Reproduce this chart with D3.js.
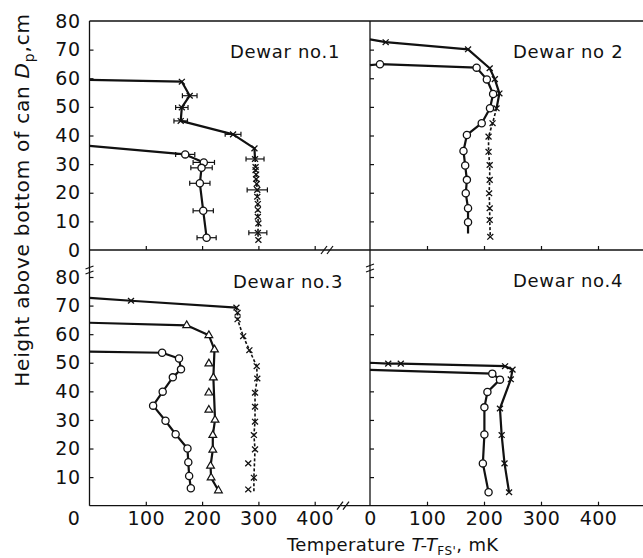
<!DOCTYPE html>
<html>
<head>
<meta charset="utf-8">
<script src="https://cdn.jsdelivr.net/npm/d3@7"></script>
<style>
  body { margin: 0; background: #fff; }
  svg text { font-family: "DejaVu Sans", sans-serif; fill: #111; }
</style>
</head>
<body>
<div id="chart"></div>
<script>
// Tick values
var xTicks = [0, 100, 200, 300, 400];
var yTicksTop = [0, 10, 20, 30, 40, 50, 60, 70, 80];
var yTicksBot = [10, 20, 30, 40, 50, 60, 70, 80];

// Dewar no.1 - crosses (with error bars) and circles (with error bars)
var dw1CrossWall = 59.4;
var dw1CrossT = [164, 178, 164, 162, 255, 293, 294, 295, 295, 296, 296, 297, 298, 298, 299, 299, 299, 300, 299, 300];
var dw1CrossH = [58.8, 53.9, 49.8, 45.1, 40.4, 35.5, 31.8, 29.0, 27.9, 26.4, 24.8, 23.1, 21.0, 18.6, 16.1, 14.0, 11.6, 9.3, 6.0, 3.5];
var dw1CrossE = [0, 13, 11, 12, 14, 0, 16, 0, 0, 0, 0, 0, 18, 0, 0, 0, 0, 0, 16, 0];
var dw1CircWall = 36.4;
var dw1CircT = [170, 203, 199, 196, 202, 208];
var dw1CircH = [33.4, 30.6, 28.7, 23.3, 13.7, 4.3];
var dw1CircE = [17, 19, 19, 18, 18, 17];

// Dewar no 2
var dw2CrossWall = 73.6;
var dw2CrossT = [27.5, 172, 210, 219, 227, 222, 215, 208, 208, 210, 210, 209, 210, 210, 211];
var dw2CrossH = [72.6, 70.1, 63.5, 59.7, 54.7, 49.5, 44.3, 39.6, 34.3, 29.7, 24.5, 19.8, 14.6, 10.5, 4.6];
var dw2CircWall = 64.6;
var dw2CircT = [17.5, 187, 205, 216, 210.5, 196, 170, 164, 167, 170, 168, 172, 172];
var dw2CircH = [64.9, 63.7, 59.6, 54.5, 49.5, 44.3, 40.2, 34.6, 29.5, 24.5, 19.8, 14.6, 9.7];
var dw2CircTail = [172, 5.8];

// Dewar no.3
var dw3CrossWall = 72.7;
var dw3CrossT = [73.7, 261, 263, 263, 273, 284, 297, 298, 294, 294, 294, 292, 294, 282, 292, 282];
var dw3CrossH = [71.7, 69.3, 67.5, 65.2, 59.3, 54.4, 48.8, 44.5, 39.5, 34.6, 29.4, 24.7, 19.7, 14.8, 9.8, 5.7];
var dw3CrossOff = [0, 0, 0, 0, 0, 0, 0, 0, 0, 0, 0, 0, 0, 1, 0, 1];
var dw3CrossTail = [292, 5.0];
var dw3TriWall = 64.0;
var dw3TriT = [172.6, 212, 222, 212, 220, 212, 212, 223, 219, 219, 215, 216, 229];
var dw3TriH = [63.1, 59.6, 54.6, 49.7, 44.8, 39.5, 33.5, 30.0, 24.7, 19.5, 13.9, 9.8, 5.3];
var dw3TriOff = [0, 0, 0, 1, 0, 1, 1, 0, 0, 0, 0, 0, 0];
var dw3CircWall = 53.9;
var dw3CircT = [129, 159, 162.5, 148, 130, 113, 135, 153, 174, 175.5, 177, 180];
var dw3CircH = [53.5, 51.5, 47.7, 44.9, 39.9, 35.0, 29.7, 25.0, 20.0, 15.2, 10.4, 6.1];

// Dewar no.4
var dw4CrossWall = 50.0;
var dw4CrossT = [32, 54, 237, 250, 247, 228, 231, 236, 244];
var dw4CrossH = [49.7, 49.7, 48.8, 47.6, 44.2, 34.0, 24.7, 14.8, 4.7];
var dw4CircWall = 47.5;
var dw4CircT = [214.6, 228, 206, 200.7, 200.7, 198, 208];
var dw4CircH = [46.2, 44.1, 39.8, 34.4, 24.9, 14.8, 4.7];

var svgWidth = 643, svgHeight = 558;

var svg = d3.select("#chart").append("svg")
  .attr("width", svgWidth)
  .attr("height", svgHeight);

// scales: left/right panels and top/bottom rows
var xL = d3.scaleLinear().domain([0, 400]).range([89.5, 314.7]);
var xR = d3.scaleLinear().domain([0, 400]).range([370, 598]);
var yT = d3.scaleLinear().domain([0, 80]).range([250, 21]);
var yB = d3.scaleLinear().domain([0, 80]).range([505.7, 277]);

var ink = "#111";

// frame / axis lines
var frame = svg.append("g").attr("stroke", ink).attr("stroke-width", 1.3);
frame.append("line").attr("x1", 89.5).attr("x2", 643).attr("y1", 21).attr("y2", 21);
frame.append("line").attr("x1", 89.5).attr("x2", 643).attr("y1", 250).attr("y2", 250);
frame.append("line").attr("x1", 89.5).attr("x2", 643).attr("y1", 505.7).attr("y2", 505.7);
frame.append("line").attr("x1", 89.5).attr("x2", 89.5).attr("y1", 21).attr("y2", 505.7);
frame.append("line").attr("x1", 370).attr("x2", 370).attr("y1", 21).attr("y2", 505.7);

// break marks
function xBreak(cx, cy) {
  [-3, 3].forEach(function(o) {
    svg.append("line")
      .attr("x1", cx + o - 3).attr("y1", cy + 4)
      .attr("x2", cx + o + 3).attr("y2", cy - 4)
      .attr("stroke", ink).attr("stroke-width", 1.2);
  });
}
function yBreak(cx, cy) {
  [-2.5, 2.5].forEach(function(o) {
    svg.append("line")
      .attr("x1", cx - 4).attr("y1", cy + o + 1.5)
      .attr("x2", cx + 4).attr("y2", cy + o - 1.5)
      .attr("stroke", ink).attr("stroke-width", 1.2);
  });
}
xBreak(327, 250);
xBreak(343, 505.7);
yBreak(89.5, 270);
yBreak(370, 268);

function styleAxis(g) {
  g.select(".domain").remove();
  g.selectAll(".tick line").attr("stroke", ink).attr("stroke-width", 1.2);
  g.selectAll(".tick text")
    .attr("font-size", "19px")
    .attr("letter-spacing", "0.5px")
    .attr("font-family", "DejaVu Sans, sans-serif")
    .attr("fill", ink);
}

// x axes (ticks point up)
svg.append("g").attr("transform", "translate(0,250)")
  .call(d3.axisBottom(xL).tickValues(xTicks.slice(1)).tickSize(-4).tickFormat(""))
  .call(styleAxis);
svg.append("g").attr("transform", "translate(0,250)")
  .call(d3.axisBottom(xR).tickValues(xTicks.slice(1)).tickSize(-4).tickFormat(""))
  .call(styleAxis);
var xAxBL = svg.append("g").attr("transform", "translate(0,505.7)")
  .call(d3.axisBottom(xL).tickValues(xTicks).tickSize(-4).tickPadding(6))
  .call(styleAxis);
xAxBL.selectAll(".tick").filter(function(d) { return d === 0; })
  .call(function(t) { t.select("line").remove(); t.select("text").attr("x", -16); });
var xAxBR = svg.append("g").attr("transform", "translate(0,505.7)")
  .call(d3.axisBottom(xR).tickValues(xTicks).tickSize(-4).tickPadding(6))
  .call(styleAxis);
xAxBR.selectAll(".tick").filter(function(d) { return d === 0; }).select("line").remove();

// y axes (ticks point right)
var yAxTL = svg.append("g").attr("transform", "translate(89.5,0)")
  .call(d3.axisLeft(yT).tickValues(yTicksTop).tickSize(-4).tickPadding(9))
  .call(styleAxis);
yAxTL.selectAll(".tick").filter(function(d) { return d === 0 || d === 80; }).select("line").remove();
var yAxBL = svg.append("g").attr("transform", "translate(89.5,0)")
  .call(d3.axisLeft(yB).tickValues(yTicksBot).tickSize(-4).tickPadding(9))
  .call(styleAxis);
svg.append("g").attr("transform", "translate(370,0)")
  .call(d3.axisLeft(yT).tickValues(yTicksTop.slice(1, 8)).tickSize(-4).tickFormat(""))
  .call(styleAxis);
svg.append("g").attr("transform", "translate(370,0)")
  .call(d3.axisLeft(yB).tickValues(yTicksBot).tickSize(-4).tickFormat(""))
  .call(styleAxis);

// panel titles
var titles = [
  { text: "Dewar no.1", x: 230, y: 58 },
  { text: "Dewar no 2", x: 513, y: 58 },
  { text: "Dewar no.3", x: 233, y: 288 },
  { text: "Dewar no.4", x: 513, y: 287 }
];
svg.selectAll(".ptitle").data(titles).enter().append("text")
  .attr("class", "ptitle")
  .attr("x", d => d.x).attr("y", d => d.y)
  .attr("font-size", "18px")
  .attr("letter-spacing", "0.7px")
  .text(d => d.text);

// axis titles
var yTitle = svg.append("text")
  .attr("transform", "translate(29,200) rotate(-90)")
  .attr("text-anchor", "middle")
  .attr("font-size", "20px")
  .attr("letter-spacing", "0.8px");
yTitle.append("tspan").text("Height above bottom of can ");
yTitle.append("tspan").attr("font-style", "italic").text("D");
yTitle.append("tspan").attr("font-size", "14px").attr("dy", 5).text("p");
yTitle.append("tspan").attr("dy", -5).text(",cm");

// x title; the prime sits just after the FS subscript
var xTitle = svg.append("text")
  .attr("x", 287).attr("y", 551)
  .attr("font-size", "18px")
  .attr("letter-spacing", "0.4px");
xTitle.append("tspan").text("Temperature ");
xTitle.append("tspan").attr("font-style", "italic").text("T-T");
xTitle.append("tspan").attr("font-size", "12px").attr("dy", 4).text("FS'");
xTitle.append("tspan").attr("dy", -4).text(", mK");

// series drawing
function drawSeries(x, y, s) {
  var g = svg.append("g");
  var pts = [[0, s.wall]];
  s.T.forEach(function(t, i) {
    if (!s.off || !s.off[i]) pts.push([t, s.H[i]]);
  });
  if (s.tail) pts.push(s.tail);

  var line = d3.line().x(d => x(d[0])).y(d => y(d[1]));
  var solid = pts.filter(p => p[1] >= s.split);
  var dashed = pts.filter(p => p[1] <= s.split);
  if (solid.length > 1) {
    g.append("path").attr("d", line(solid))
      .attr("fill", "none").attr("stroke", ink)
      .attr("stroke-width", 2.2).attr("stroke-linejoin", "round");
  }
  if (dashed.length > 1) {
    g.append("path").attr("d", line(dashed))
      .attr("fill", "none").attr("stroke", ink)
      .attr("stroke-width", 1.6).attr("stroke-dasharray", "3,2");
  }

  // error bars
  if (s.E) {
    s.E.forEach(function(e, i) {
      if (!e) return;
      var cy = y(s.H[i]), x1 = x(s.T[i] - e), x2 = x(s.T[i] + e);
      g.append("line").attr("x1", x1).attr("x2", x2).attr("y1", cy).attr("y2", cy)
        .attr("stroke", ink).attr("stroke-width", 1.2);
      [x1, x2].forEach(function(xx) {
        g.append("line").attr("x1", xx).attr("x2", xx).attr("y1", cy - 2.5).attr("y2", cy + 2.5)
          .attr("stroke", ink).attr("stroke-width", 1.2);
      });
    });
  }

  var mk = g.selectAll(".mk").data(s.T.map((t, i) => [t, s.H[i]])).enter();
  if (s.marker === "cross") {
    mk.append("path")
      .attr("d", "M-3,-2.8L3,2.8M-3,2.8L3,-2.8")
      .attr("transform", d => "translate(" + x(d[0]) + "," + y(d[1]) + ")")
      .attr("stroke", ink).attr("stroke-width", 1.3).attr("fill", "none");
  } else if (s.marker === "circle") {
    mk.append("circle")
      .attr("cx", d => x(d[0])).attr("cy", d => y(d[1])).attr("r", 3.6)
      .attr("fill", "#fff").attr("stroke", ink).attr("stroke-width", 1.3);
  } else {
    mk.append("path")
      .attr("d", d3.symbol().type(d3.symbolTriangle).size(26))
      .attr("transform", d => "translate(" + x(d[0]) + "," + y(d[1]) + ")")
      .attr("fill", "#fff").attr("stroke", ink).attr("stroke-width", 1.2);
  }
}

drawSeries(xL, yT, { wall: dw1CrossWall, T: dw1CrossT, H: dw1CrossH, E: dw1CrossE, split: 31.8, marker: "cross" });
drawSeries(xL, yT, { wall: dw1CircWall, T: dw1CircT, H: dw1CircH, E: dw1CircE, split: -1, marker: "circle" });

drawSeries(xR, yT, { wall: dw2CrossWall, T: dw2CrossT, H: dw2CrossH, split: 49.5, marker: "cross" });
drawSeries(xR, yT, { wall: dw2CircWall, T: dw2CircT, H: dw2CircH, tail: dw2CircTail, split: -1, marker: "circle" });

drawSeries(xL, yB, { wall: dw3CrossWall, T: dw3CrossT, H: dw3CrossH, off: dw3CrossOff, tail: dw3CrossTail, split: 69.3, marker: "cross" });
drawSeries(xL, yB, { wall: dw3TriWall, T: dw3TriT, H: dw3TriH, off: dw3TriOff, split: -1, marker: "triangle" });
drawSeries(xL, yB, { wall: dw3CircWall, T: dw3CircT, H: dw3CircH, split: -1, marker: "circle" });

drawSeries(xR, yB, { wall: dw4CrossWall, T: dw4CrossT, H: dw4CrossH, split: -1, marker: "cross" });
drawSeries(xR, yB, { wall: dw4CircWall, T: dw4CircT, H: dw4CircH, split: -1, marker: "circle" });
</script>
</body>
</html>
